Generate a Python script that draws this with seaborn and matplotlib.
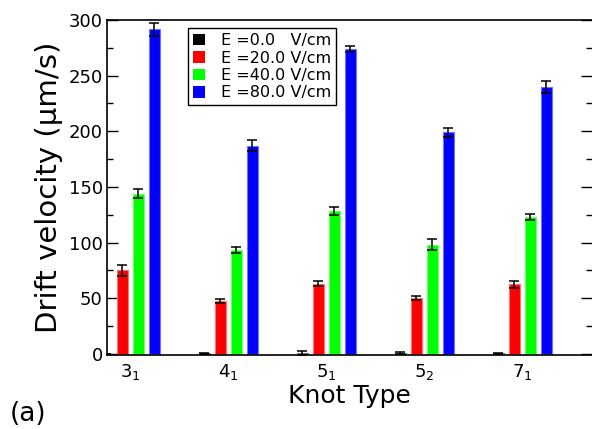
import numpy as np
import pandas as pd
import matplotlib
matplotlib.use("Agg")
import matplotlib.pyplot as plt
from matplotlib.patches import Patch
from matplotlib.colors import to_rgb
from matplotlib.ticker import MultipleLocator
import seaborn as sns

# Knot types and their axis labels
knots = ["3_1", "4_1", "5_1", "5_2", "7_1"]
knot_labels = [r"$3_1$", r"$4_1$", r"$5_1$", r"$5_2$", r"$7_1$"]

# Applied field strengths (legend entries)
field_labels = ["E =0.0   V/cm", "E =20.0 V/cm", "E =40.0 V/cm", "E =80.0 V/cm"]
field_colors = ["#000000", "#ff0000", "#00ff00", "#0000ff"]

# Mean drift velocities (um/s) for each field
v_e0 = [0.0, 0.5, 0.5, 0.8, 0.5]
v_e20 = [75.0, 47.5, 63.0, 50.0, 62.5]
v_e40 = [144.0, 93.5, 128.5, 98.0, 123.0]
v_e80 = [291.5, 187.0, 274.0, 199.0, 239.5]

# Standard errors
err_e0 = [0.0, 0.3, 2.0, 1.0, 0.5]
err_e20 = [5.0, 2.0, 2.0, 2.0, 3.0]
err_e40 = [4.0, 2.5, 3.5, 5.0, 3.0]
err_e80 = [6.0, 5.0, 3.0, 4.0, 5.5]

values = [v_e0, v_e20, v_e40, v_e80]
errors = [err_e0, err_e20, err_e40, err_e80]

rows = []
for lab, vals, errs in zip(field_labels, values, errors):
    for k, v, e in zip(knots, vals, errs):
        rows.append({"knot": k, "field": lab, "velocity": v, "err": e})
df = pd.DataFrame(rows)

sns.set_style("ticks")
plt.rcParams["font.family"] = ["DejaVu Sans"]
plt.rcParams["mathtext.fontset"] = "dejavusans"
plt.rcParams["text.color"] = "black"
plt.rcParams["axes.labelcolor"] = "black"
plt.rcParams["xtick.color"] = "black"
plt.rcParams["ytick.color"] = "black"

fig = plt.figure(figsize=(5.92, 4.29), dpi=100)
ax = fig.add_axes([0.1807, 0.172, 0.8193, 0.7813])

sns.barplot(data=df, x="knot", y="velocity", hue="field",
            order=knots, hue_order=field_labels, palette=field_colors,
            width=0.653, gap=0.31, errorbar=None, saturation=1,
            legend=False, ax=ax)

# Light outline around each bar, then error bars on the bar centres
for cont, lab, col in zip(ax.containers, field_labels, field_colors):
    rgb = np.array(to_rgb(col))
    light = tuple(0.55 * rgb + 0.45)
    for b in cont:
        b.set_edgecolor(light)
        b.set_linewidth(0.8)
    sub = df[df["field"] == lab].set_index("knot").loc[knots]
    xs = [b.get_x() + b.get_width() / 2 for b in cont]
    hs = [b.get_height() for b in cont]
    ax.errorbar(xs, hs, yerr=sub["err"].values, fmt="none",
                ecolor="black", elinewidth=1.1, capsize=3.6,
                capthick=1.1, zorder=5)

ax.set_xlim(-0.24, 4.71)
ax.set_ylim(-1.3, 300)

ax.yaxis.set_major_locator(MultipleLocator(50))
ax.yaxis.set_minor_locator(MultipleLocator(25))
ax.tick_params(axis="y", which="major", direction="in", length=8,
               width=1, labelsize=13, right=True, pad=3)
ax.tick_params(axis="y", which="minor", direction="in", length=4,
               width=1, right=True)
ax.tick_params(axis="x", length=0, labelsize=13, pad=5)
ax.set_xticks(range(len(knots)))
ax.set_xticklabels(knot_labels)

for side in ["left", "top", "bottom"]:
    ax.spines[side].set_linewidth(1.2)
    ax.spines[side].set_color("black")
ax.spines["right"].set_visible(False)

ax.set_xlabel("Knot Type", fontsize=18, labelpad=1)
ax.set_ylabel("Drift velocity (\u03bcm/s)", fontsize=21, labelpad=4)

handles = [Patch(facecolor=c, edgecolor="none") for c in field_colors]
leg = ax.legend(handles, field_labels, loc="upper left",
                bbox_to_anchor=(0.167, 0.975), fontsize=11.5,
                frameon=True, fancybox=False, framealpha=1,
                edgecolor="black", handlelength=0.75, handleheight=0.75,
                handletextpad=1.0, labelspacing=0.15, borderpad=0.3,
                borderaxespad=0)
leg.get_frame().set_linewidth(1.0)

fig.text(0.017, 0.018, "(a)", fontsize=19)

fig.savefig("out.png", dpi=100)
